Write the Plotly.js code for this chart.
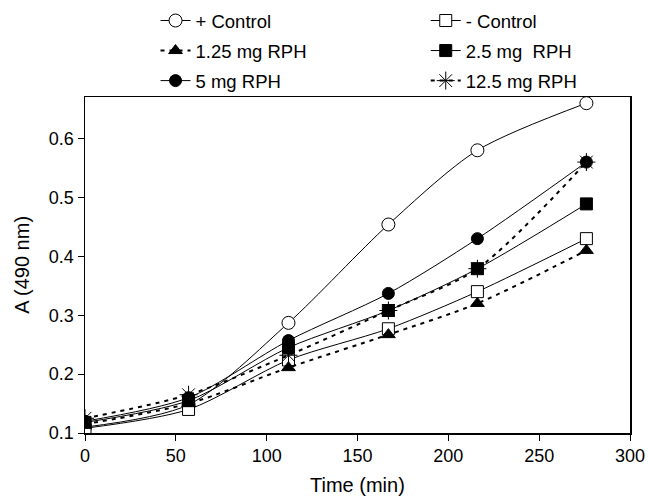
<!DOCTYPE html>
<html>
<head>
<meta charset="utf-8">
<script src="https://cdn.plot.ly/plotly-3.0.1.min.js"></script>
<style>html,body{margin:0;padding:0;background:#fff;}#chart{width:648px;height:496px;}</style>
</head>
<body>
<div id="chart"></div>
<script>
const timeMin = [0, 57, 112, 167, 216, 276];
const posControl = [0.110, 0.148, 0.287, 0.454, 0.580, 0.660];
const negControl = [0.108, 0.140, 0.224, 0.277, 0.340, 0.430];
const rph125 = [0.115, 0.150, 0.211, 0.267, 0.320, 0.410];
const rph25 = [0.118, 0.155, 0.245, 0.308, 0.379, 0.489];
const rph5 = [0.120, 0.160, 0.257, 0.337, 0.430, 0.560];
const rph125b = [0.125, 0.165, 0.232, 0.308, 0.379, 0.560];
const seriesNames = ['+ Control', '- Control', '1.25 mg RPH', '2.5 mg  RPH', '5 mg RPH', '12.5 mg RPH'];
const xTicks = [0, 50, 100, 150, 200, 250, 300];
const yTicks = [0.1, 0.2, 0.3, 0.4, 0.5, 0.6];
const xTitle = 'Time (min)';
const yTitle = 'A (490 nm)';

const dotted = '4px,5px';
function tr(name, y, dash, symbol, fill, size, lw, leg, rank) {
  return {
    x: timeMin, y: y, name: name, type: 'scatter', mode: 'lines+markers',
    legend: leg, legendgroup: 'g' + rank, legendrank: rank,
    line: {color: '#000', width: lw || 1, dash: dash, shape: 'spline', smoothing: 0.8},
    marker: {symbol: symbol, size: size, color: fill, line: {color: '#000', width: 1}}
  };
}
const data = [
  tr(seriesNames[0], posControl, 'solid', 'circle', '#fff', 13, 1, 'legend', 1),
  tr(seriesNames[1], negControl, 'solid', 'square', '#fff', 12, 1, 'legend2', 1),
  tr(seriesNames[2], rph125, dotted, 'triangle-up', '#000', 12, 2, 'legend', 2),
  tr(seriesNames[3], rph25, 'solid', 'square', '#000', 12, 1, 'legend2', 2),
  tr(seriesNames[4], rph5, 'solid', 'circle', '#000', 12, 1, 'legend', 3),
  tr(seriesNames[5], rph125b, dotted, 'asterisk-open', '#000', 15, 2, 'legend2', 3)
];
const fam = 'Liberation Sans, Arial, sans-serif';
const font = {family: fam, size: 18, color: '#000'};
const legFont = {family: fam, size: 18.5, color: '#000'};
const titleFont = {family: fam, size: 20, color: '#000'};
function legendAt(x) {
  return {
    xref: 'container', yref: 'container', x: x, xanchor: 'left', y: 0.996, yanchor: 'top',
    orientation: 'v', tracegroupgap: 3, font: legFont, bgcolor: 'rgba(0,0,0,0)', valign: 'middle'
  };
}
const layout = {
  width: 648, height: 496,
  margin: {l: 85, r: 18, t: 97, b: 63, autoexpand: false},
  paper_bgcolor: '#fff', plot_bgcolor: '#fff',
  font: font,
  showlegend: true,
  legend: legendAt(0.240),
  legend2: legendAt(0.657),
  xaxis: {
    range: [0, 300], tickvals: xTicks, ticktext: xTicks.map(String),
    ticks: 'outside', ticklen: 6, tickcolor: '#000', tickwidth: 1,
    showline: true, linecolor: '#000', linewidth: 1.5, mirror: true,
    showgrid: false, zeroline: false,
    tickfont: font
  },
  yaxis: {
    range: [0.1, 0.6705], tickvals: yTicks, ticktext: yTicks.map(v => v.toFixed(1)),
    ticks: 'outside', ticklen: 6, tickcolor: '#000', tickwidth: 1,
    showline: true, linecolor: '#000', linewidth: 1.5, mirror: true,
    showgrid: false, zeroline: false,
    tickfont: font
  },
  annotations: [
    {text: yTitle, textangle: -90, font: titleFont, showarrow: false,
     xref: 'paper', yref: 'paper', x: -0.116, y: 0.5, xanchor: 'center', yanchor: 'middle'},
    {text: xTitle, font: titleFont, showarrow: false,
     xref: 'paper', yref: 'paper', x: 0.5, y: -0.155, xanchor: 'center', yanchor: 'middle'}
  ]
};
Plotly.newPlot('chart', data, layout, {staticPlot: true, displayModeBar: false});
</script>
</body>
</html>
